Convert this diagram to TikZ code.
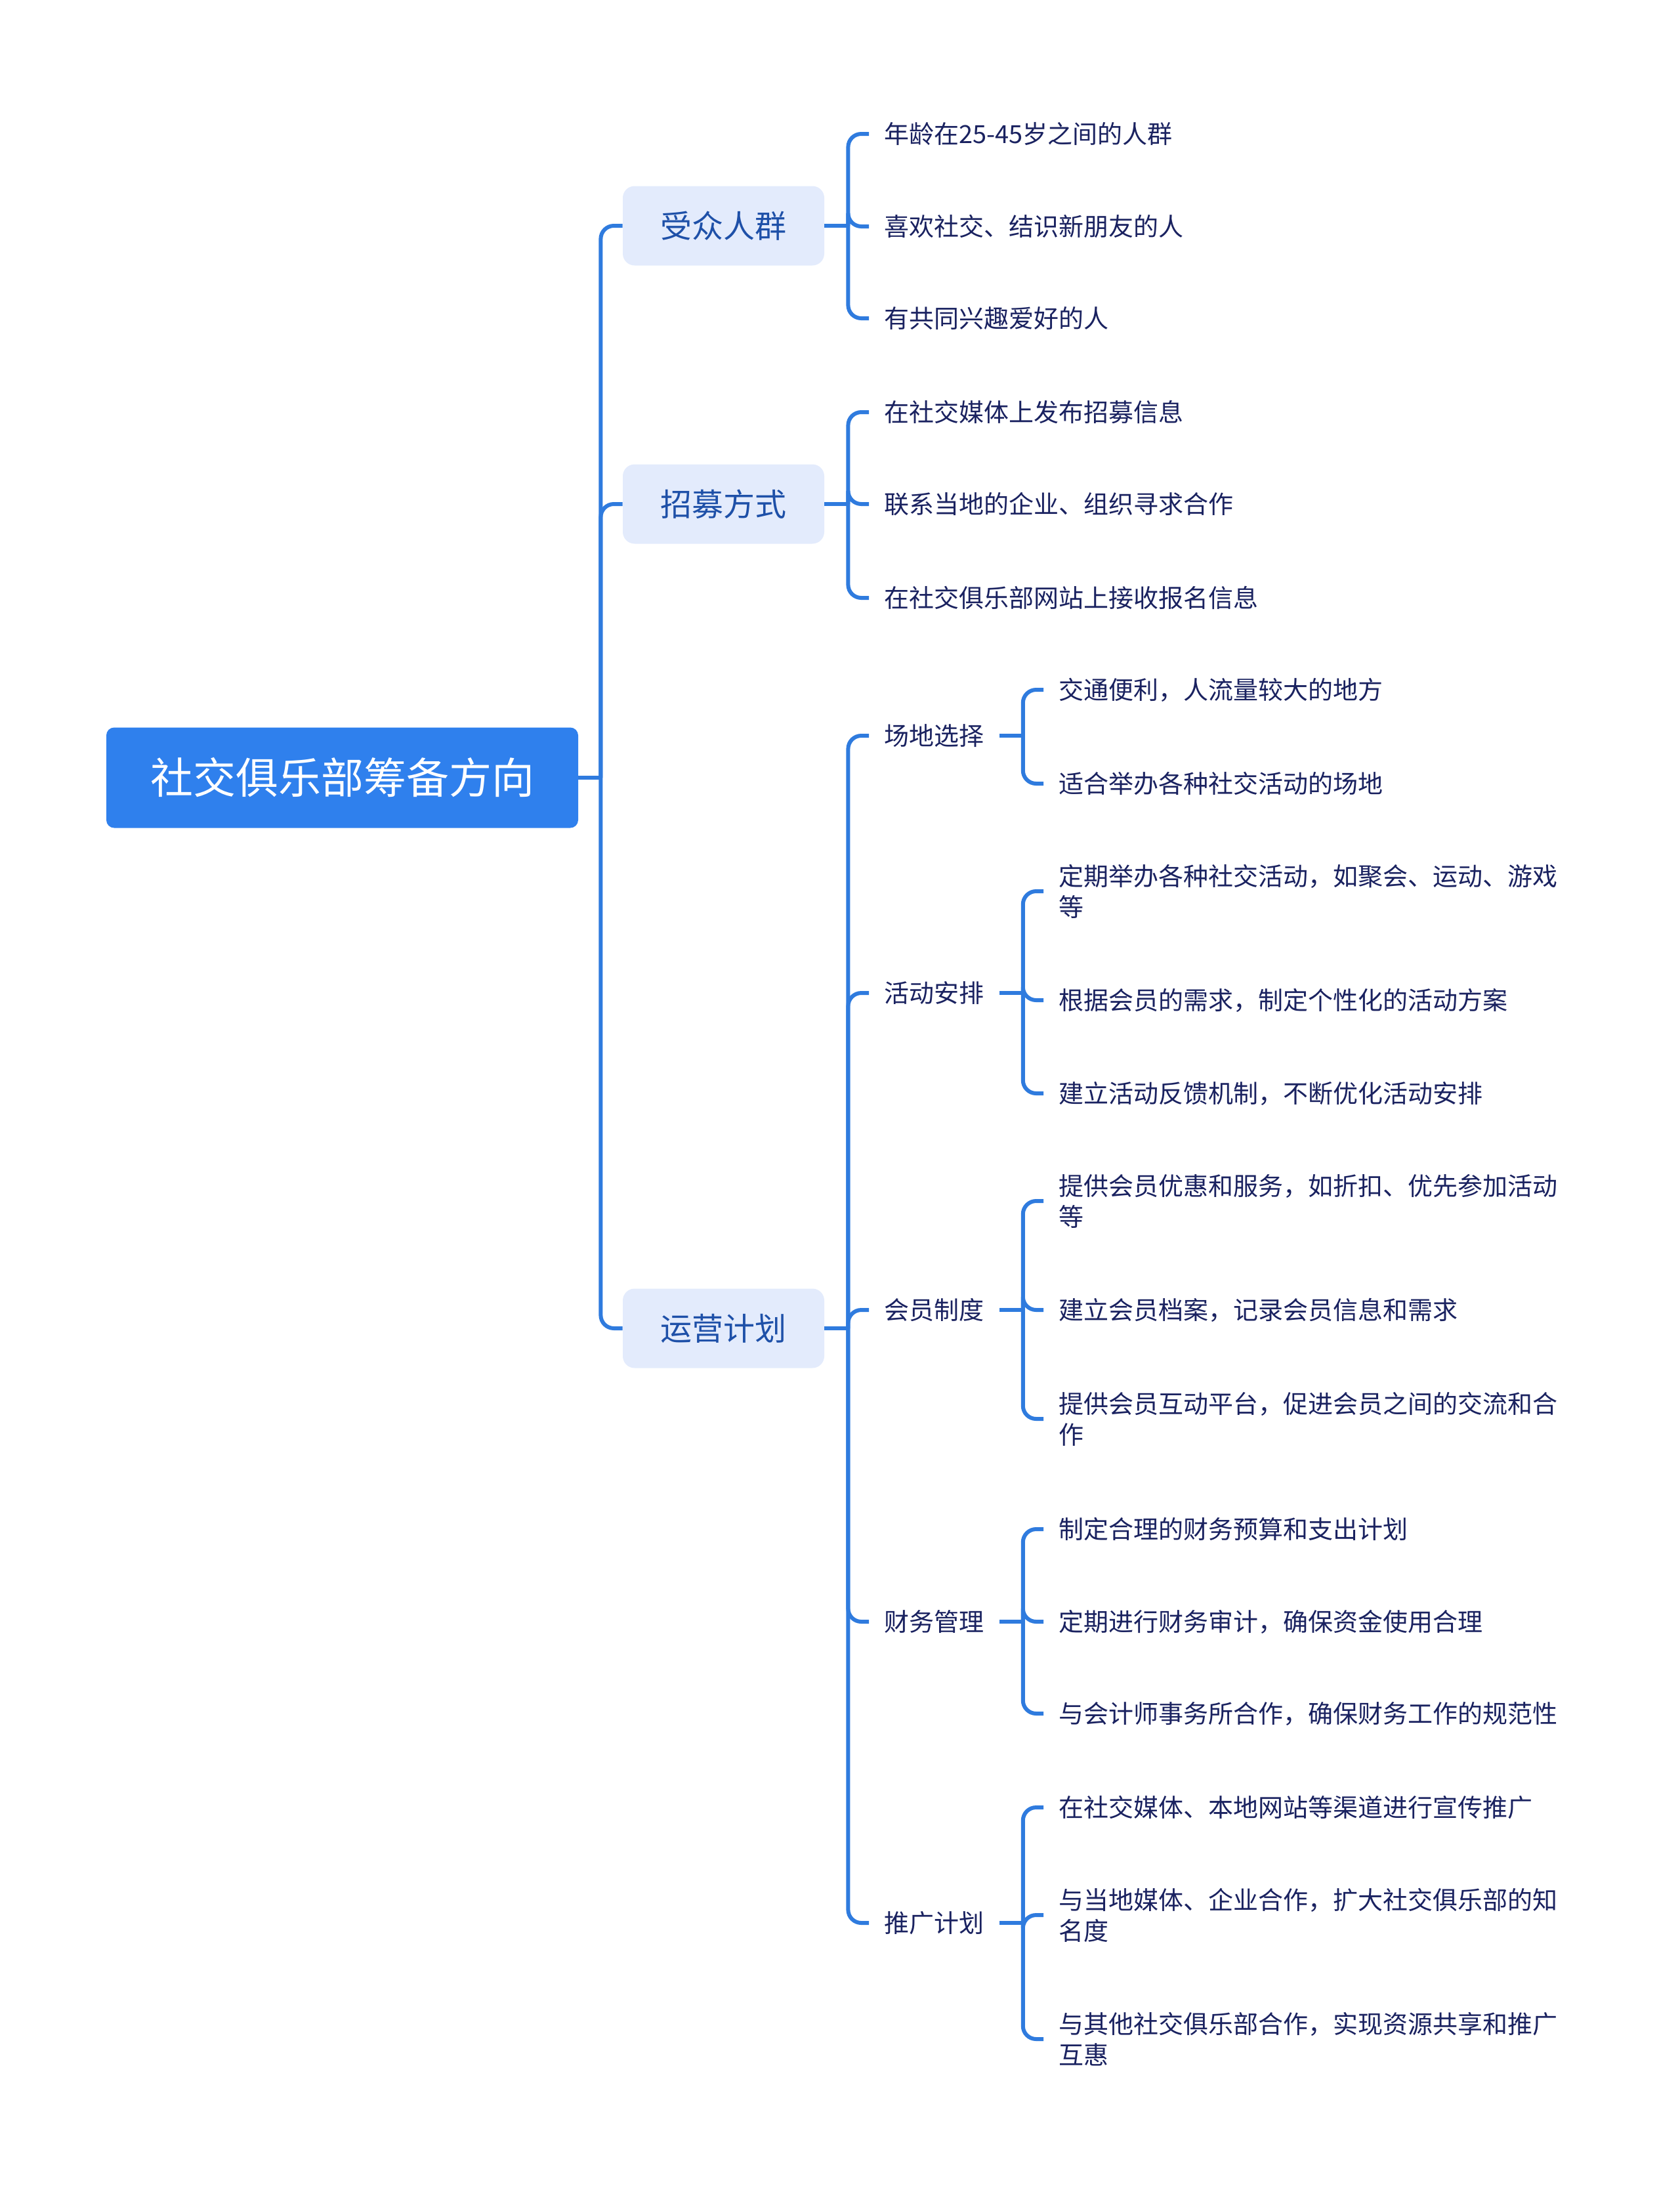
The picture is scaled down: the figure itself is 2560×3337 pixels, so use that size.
\documentclass[tikz,border=0pt]{standalone}
\usepackage{fontspec}
\setmainfont{Noto Sans CJK SC}
\usepackage{xcolor}
\usepackage{tikz}
\usetikzlibrary{
  positioning
}
\definecolor{RootBlue}{HTML}{2F80ED}
\definecolor{LineBlue}{HTML}{2F7BDE}
\definecolor{TopicFill}{HTML}{E3EBFC}
\definecolor{TopicText}{HTML}{1E50A8}
\definecolor{LeafText}{HTML}{1A2260}
\tikzset{
  root/.style={
    fill=RootBlue,
    rounded corners=6pt,
    text=white,
    minimum width=359.5pt,
    minimum height=76.5pt,
    font=\fontsize{32.5pt}{39pt}\selectfont
  },
  topic/.style={
    fill=TopicFill,
    rounded corners=9pt,
    text=TopicText,
    minimum width=153.5pt,
    minimum height=60.5pt,
    font=\fontsize{24pt}{29pt}\selectfont
  },
  subtopic/.style={
    anchor=west,
    text=LeafText,
    inner xsep=11.5pt,
    inner ysep=2pt,
    font=\fontsize{19pt}{23.5pt}\selectfont
  },
  leaf/.style={
    subtopic,
    align=left
  },
  branch/.style={
    draw=LineBlue,
    line width=3pt,
    rounded corners=10pt
  }
}

\begin{document}
\begin{tikzpicture}[x=0.5pt, y=-0.5pt]

  \useasboundingbox (0,0) rectangle (2560,3337);

  % root and first level
  \node[root] (root) at (521.5,1185) {社交俱乐部筹备方向};

  \node[topic] (audience) at (1102.5,344) {受众人群};
  \node[topic] (recruit) at (1102.5,768) {招募方式};
  \node[topic] (ops) at (1102.5,2024) {运营计划};

  % audience
  \node[leaf] (aud1) at (1324,204) {年龄在25-45岁之间的人群};
  \node[leaf] (aud2) at (1324,345) {喜欢社交、结识新朋友的人};
  \node[leaf] (aud3) at (1324,485) {有共同兴趣爱好的人};

  % recruiting
  \node[leaf] (rec1) at (1324,628) {在社交媒体上发布招募信息};
  \node[leaf] (rec2) at (1324,768) {联系当地的企业、组织寻求合作};
  \node[leaf] (rec3) at (1324,911) {在社交俱乐部网站上接收报名信息};

  % operations
  \node[subtopic] (venue) at (1324,1121) {场地选择};
  \node[subtopic] (events) at (1324,1513) {活动安排};
  \node[subtopic] (member) at (1324,1996) {会员制度};
  \node[subtopic] (finance) at (1324,2471) {财务管理};
  \node[subtopic] (promo) at (1324,2930) {推广计划};

  \node[leaf] (venue1) at (1590,1051) {交通便利，人流量较大的地方};
  \node[leaf] (venue2) at (1590,1194) {适合举办各种社交活动的场地};

  \node[leaf] (events1) at (1590,1358) {定期举办各种社交活动，如聚会、运动、游戏\\等};
  \node[leaf] (events2) at (1590,1524) {根据会员的需求，制定个性化的活动方案};
  \node[leaf] (events3) at (1590,1666) {建立活动反馈机制，不断优化活动安排};

  \node[leaf] (member1) at (1590,1830) {提供会员优惠和服务，如折扣、优先参加活动\\等};
  \node[leaf] (member2) at (1590,1996) {建立会员档案，记录会员信息和需求};
  \node[leaf] (member3) at (1590,2162) {提供会员互动平台，促进会员之间的交流和合\\作};

  \node[leaf] (finance1) at (1590,2330) {制定合理的财务预算和支出计划};
  \node[leaf] (finance2) at (1590,2471) {定期进行财务审计，确保资金使用合理};
  \node[leaf] (finance3) at (1590,2611) {与会计师事务所合作，确保财务工作的规范性};

  \node[leaf] (promo1) at (1590,2754) {在社交媒体、本地网站等渠道进行宣传推广};
  \node[leaf] (promo2) at (1590,2918) {与当地媒体、企业合作，扩大社交俱乐部的知\\名度};
  \node[leaf] (promo3) at (1590,3107) {与其他社交俱乐部合作，实现资源共享和推广\\互惠};

  % connectors
  \path (root.east) ++(34,0) coordinate (rootJ);
  \draw[branch] (root.east) -- (rootJ);
  \foreach \c in {audience,recruit,ops}
    \draw[branch] (rootJ) |- (\c.west);

  \foreach \p/\kids in {%
    audience/{aud1,aud2,aud3},%
    recruit/{rec1,rec2,rec3},%
    ops/{venue,events,member,finance,promo},%
    venue/{venue1,venue2},%
    events/{events1,events2,events3},%
    member/{member1,member2,member3},%
    finance/{finance1,finance2,finance3},%
    promo/{promo1,promo2,promo3}}{
    \path (\p.east) ++(36,0) coordinate (\p J);
    \draw[branch] (\p.east) -- (\p J);
    \foreach \k in \kids
      \draw[branch] (\p J) |- (\k.west);
  }

\end{tikzpicture}
\end{document}
